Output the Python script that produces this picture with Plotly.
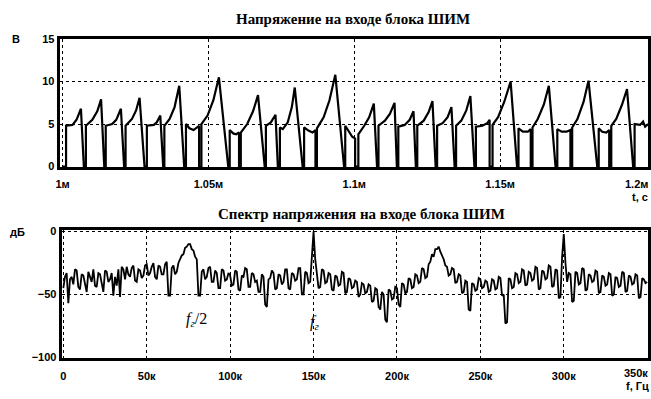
import plotly.graph_objects as go

# ---------------- data ----------------
# Top: voltage at PWM block input, polyline vertices
t_us = [1000.0, 1001.2, 1001.2, 1003.4, 1004.8, 1006.3, 1007.3, 1008.0,
        1008.0, 1010.2, 1011.9, 1013.2, 1014.3, 1014.8,
        1014.8, 1017.0, 1018.4, 1020.0, 1021.1, 1021.6,
        1021.6, 1023.8, 1025.2, 1026.4, 1028.1, 1028.9,
        1028.9, 1031.3, 1032.3, 1033.5, 1034.5, 1034.9,
        1034.9, 1036.7, 1038.4, 1040.0, 1041.7, 1042.3,
        1042.3, 1043.5, 1044.9, 1046.3, 1046.8, 1046.8, 1047.6, 1047.6, 1049.7, 1051.7, 1053.6, 1056.8, 1057.3,
        1057.3, 1058.5, 1059.5, 1060.5, 1060.5, 1061.1, 1061.1, 1063.3, 1065.3, 1067.0, 1069.3, 1069.7,
        1069.7, 1071.4, 1073.0, 1073.8, 1074.5,
        1074.5, 1075.5, 1077.2, 1078.6, 1079.6, 1082.3, 1082.8,
        1082.8, 1084.4, 1085.7, 1086.7, 1086.7, 1087.2, 1087.2, 1089.5, 1091.5, 1093.5, 1096.5, 1096.9,
        1096.9, 1098.3, 1099.3, 1100.3, 1100.3, 1101.4, 1101.4, 1103.4, 1105.1, 1106.7, 1107.8, 1108.3,
        1108.3, 1110.5, 1112.2, 1113.8, 1114.6, 1115.1,
        1115.1, 1117.3, 1119.0, 1120.3, 1121.1, 1121.6,
        1121.6, 1123.8, 1125.5, 1126.8, 1127.9, 1128.4,
        1128.4, 1130.3, 1132.0, 1133.3, 1134.4, 1134.9,
        1134.9, 1136.7, 1138.4, 1139.8, 1141.2, 1141.7,
        1141.7, 1143.9, 1145.6, 1146.4, 1146.4, 1147.4, 1147.4, 1149.3, 1151.4, 1153.6, 1155.8, 1156.3,
        1156.3, 1157.8, 1159.5, 1160.5, 1160.5, 1161.1, 1161.1, 1162.9, 1165.0, 1166.7, 1169.0, 1169.6,
        1169.6, 1171.1, 1172.8, 1174.1, 1174.1, 1174.7, 1174.7, 1176.5, 1178.6, 1180.3, 1183.3, 1183.8,
        1183.8, 1185.0, 1186.4, 1187.4, 1187.4, 1188.1, 1188.1, 1189.8, 1191.8, 1193.5, 1195.6, 1196.1,
        1196.1, 1198.0, 1199.0, 1199.7, 1200.7]
volt = [0.0, 0.0, 4.8, 4.9, 5.5, 6.8, 0.0, 0.0,
        4.8, 5.5, 6.5, 7.9, 0.0, 0.0,
        4.8, 5.0, 5.5, 6.8, 0.0, 0.0,
        4.8, 5.6, 6.6, 8.1, 0.0, 0.0,
        4.8, 4.9, 5.2, 6.0, 0.0, 0.0,
        4.8, 5.6, 7.0, 9.5, 0.0, 0.0,
        5.0, 4.5, 4.3, 4.6, 4.8, 0.0, 0.0, 5.0, 6.0, 7.8, 10.5, 0.0, 0.0,
        4.3, 3.9, 3.8, 4.0, 0.0, 0.0, 4.0, 5.0, 6.5, 8.4, 0.0, 0.0,
        4.8, 5.2, 6.1, 0.0, 0.0,
        4.6, 4.4, 5.2, 7.0, 9.3, 0.0, 0.0,
        4.6, 4.2, 4.0, 4.3, 0.0, 0.0, 4.5, 5.8, 7.8, 10.8, 0.0, 0.0,
        4.8, 4.0, 3.5, 3.3, 0.0, 0.0, 3.8, 4.8, 5.8, 7.4, 0.0, 0.0,
        4.8, 5.4, 6.2, 7.5, 0.0, 0.0,
        4.7, 4.9, 5.5, 6.5, 0.0, 0.0,
        4.8, 5.4, 6.4, 7.7, 0.0, 0.0,
        4.8, 5.1, 5.8, 7.0, 0.0, 0.0,
        4.8, 5.4, 6.6, 8.3, 0.0, 0.0,
        4.7, 4.8, 5.1, 5.5, 0.0, 0.0, 4.9, 5.8, 7.6, 10.0, 0.0, 0.0,
        4.5, 4.1, 4.1, 4.4, 0.0, 0.0, 4.6, 5.6, 7.3, 9.5, 0.0, 0.0,
        4.4, 4.1, 4.1, 4.3, 0.0, 0.0, 4.6, 5.6, 7.6, 10.1, 0.0, 0.0,
        4.5, 4.1, 4.0, 4.3, 0.0, 0.0, 4.8, 5.6, 7.3, 9.1, 0.0, 0.0,
        5.0, 4.9, 5.3, 4.7, 5.0]

# Bottom: spectrum (dB), one reading every 1 kHz from 0 to 350 kHz
spec_step_hz = 1000
spec_db = [
    -45, -36, -33, -57, -38, -36, -42, -30, -31, -44,
    -46, -34, -35, -41, -48, -32, -36, -40, -30, -43,
    -44, -33, -34, -41, -48, -31, -32, -40, -38, -33,
    -51, -36, -43, -30, -52, -28, -30, -38, -28, -34,
    -36, -29, -27, -39, -40, -30, -31, -37, -35, -27,
    -26, -35, -33, -28, -25, -36, -38, -27, -28, -34,
    -34, -26, -24, -51, -51, -29, -27, -34, -32, -25,
    -22, -19, -18, -13, -12, -10, -10, -14, -15, -20,
    -22, -51, -51, -32, -30, -38, -36, -29, -28, -40,
    -40, -31, -33, -45, -45, -30, -31, -39, -38, -33,
    -35, -43, -42, -31, -32, -46, -47, -35, -36, -29,
    -30, -44, -44, -33, -34, -40, -39, -48, -48, -34,
    -36, -58, -60, -38, -37, -31, -33, -46, -45, -34,
    -35, -42, -40, -30, -30, -45, -46, -33, -34, -39,
    -38, -29, -29, -50, -50, -32, -33, -41, -40, -20,
    0, -22, -35, -45, -44, -30, -31, -41, -40, -33,
    -34, -46, -47, -35, -36, -43, -42, -32, -33, -49,
    -48, -37, -38, -45, -44, -39, -40, -52, -50, -41,
    -42, -49, -48, -42, -43, -56, -55, -45, -46, -60,
    -62, -48, -50, -70, -72, -46, -47, -54, -53, -44,
    -45, -58, -60, -41, -42, -49, -48, -37, -38, -45,
    -44, -34, -35, -41, -40, -29, -30, -37, -36, -26,
    -24, -18, -20, -14, -14, -12, -16, -19, -22, -27,
    -28, -35, -34, -29, -30, -41, -40, -34, -35, -49,
    -48, -39, -40, -62, -63, -41, -42, -47, -46, -37,
    -38, -45, -44, -39, -40, -48, -47, -38, -39, -46,
    -45, -36, -37, -51, -50, -73, -72, -37, -38, -45,
    -44, -33, -34, -41, -40, -30, -31, -43, -42, -32,
    -33, -39, -38, -28, -29, -46, -45, -31, -32, -38,
    -37, -27, -28, -44, -43, -30, -31, -53, -52, -20,
    -2, -25, -40, -33, -34, -56, -55, -32, -33, -42,
    -41, -29, -30, -47, -46, -34, -35, -40, -39, -31,
    -32, -49, -48, -35, -36, -43, -42, -33, -34, -51,
    -50, -36, -37, -44, -43, -32, -33, -48, -47, -35,
    -36, -42, -41, -34, -35, -53, -52, -37, -38, -41,
    -40]
freq_hz = [i * spec_step_hz for i in range(len(spec_db))]

top_ticks_s = [1.0e-3, 1.05e-3, 1.1e-3, 1.15e-3]
top_ticktext = ["1м", "1.05м", "1.1м", "1.15м"]
top_edge_tick_s = 1.2e-3
top_edge_label = "1.2м"
top_yticks = [0, 5, 10, 15]
bot_ticks_hz = [0, 50000, 100000, 150000, 200000, 250000, 300000]
bot_ticktext = ["0", "50к", "100к", "150к", "200к", "250к", "300к"]
bot_edge_tick_hz = 350000
bot_edge_label = "350к"
bot_yticks = [0, -50, -100]

title_top = "Напряжение на входе блока ШИМ"
title_bot = "Спектр напряжения на входе блока ШИМ"

# ---------------- figure ----------------
t_s = [v * 1e-6 for v in t_us]

fig = go.Figure()
fig.add_trace(go.Scatter(x=t_s, y=volt, mode="lines",
                         line=dict(color="black", width=2.2), xaxis="x", yaxis="y",
                         showlegend=False, hoverinfo="skip"))
fig.add_trace(go.Scatter(x=freq_hz, y=spec_db, mode="lines",
                         line=dict(color="black", width=1.8), xaxis="x2", yaxis="y2",
                         showlegend=False, hoverinfo="skip"))

tickfont = dict(family="Liberation Sans Narrow, Liberation Sans, Arial", size=11,
                color="black", weight="bold")
axcommon = dict(showline=True, linecolor="black", linewidth=3, mirror=True,
                showgrid=True, gridcolor="black", gridwidth=1, griddash="dot",
                zeroline=False, ticks="", tickfont=tickfont)

fig.update_layout(
    width=651, height=399,
    margin=dict(l=0, r=0, t=0, b=0),
    paper_bgcolor="white", plot_bgcolor="white",
    xaxis=dict(domain=[0.086, 0.9954], range=[0.9990e-3, 1.2007e-3],
               tickvals=top_ticks_s, ticktext=top_ticktext, anchor="y",
               ticklabelstandoff=4, **axcommon),
    yaxis=dict(domain=[0.584, 0.9148], range=[-0.1, 15], tickvals=top_yticks,
               anchor="x", **axcommon),
    xaxis2=dict(domain=[0.0891, 0.9954], range=[-1000, 350500],
                tickvals=bot_ticks_hz, ticktext=bot_ticktext, anchor="y2",
                ticklabelstandoff=6, **axcommon),
    yaxis2=dict(domain=[0.0927, 0.4236], range=[-100.5, 1.5], tickvals=bot_yticks,
                anchor="x2", **axcommon),
)

titlefont = dict(family="Liberation Serif, Times New Roman, serif", size=15,
                 color="black", weight="bold")
labfont = dict(family="Liberation Sans Narrow, Liberation Sans, Arial", size=11,
               color="black", weight="bold")
italic = dict(family="Liberation Serif, Times New Roman, serif", size=16, color="black")

def note(text, x, y, xref="paper", yref="paper", xanchor="center", font=labfont):
    fig.add_annotation(text=text, xref=xref, yref=yref, x=x, y=y, xanchor=xanchor,
                       yanchor="middle", showarrow=False, font=font)

note(title_top, 351 / 651, 1 - 13 / 399, font=titlefont)
note(title_bot, 360 / 651, 1 - 214 / 399, font=titlefont)
note("В", 12 / 651, top_yticks[-1], yref="y")
note("дБ", 14 / 651, bot_yticks[0], yref="y2")
note(top_edge_label, 650 / 651, 1 - 183 / 399, xanchor="right", font=tickfont)
note(bot_edge_label, 650 / 651, 1 - 377 / 399, xanchor="right", font=tickfont)
note("t, c", 650 / 651, 1 - 196 / 399, xanchor="right")
note("f, Гц", 651 / 651, 1 - 391 / 399, xanchor="right")
note("<i>f</i><sub><i>г</i></sub>/2", 80000, -70, xref="x2", yref="y2", font=italic)
note("<i>f</i><sub><i>г</i></sub>", 150500, -72, xref="x2", yref="y2", font=italic)

fig.write_html("out.html")
